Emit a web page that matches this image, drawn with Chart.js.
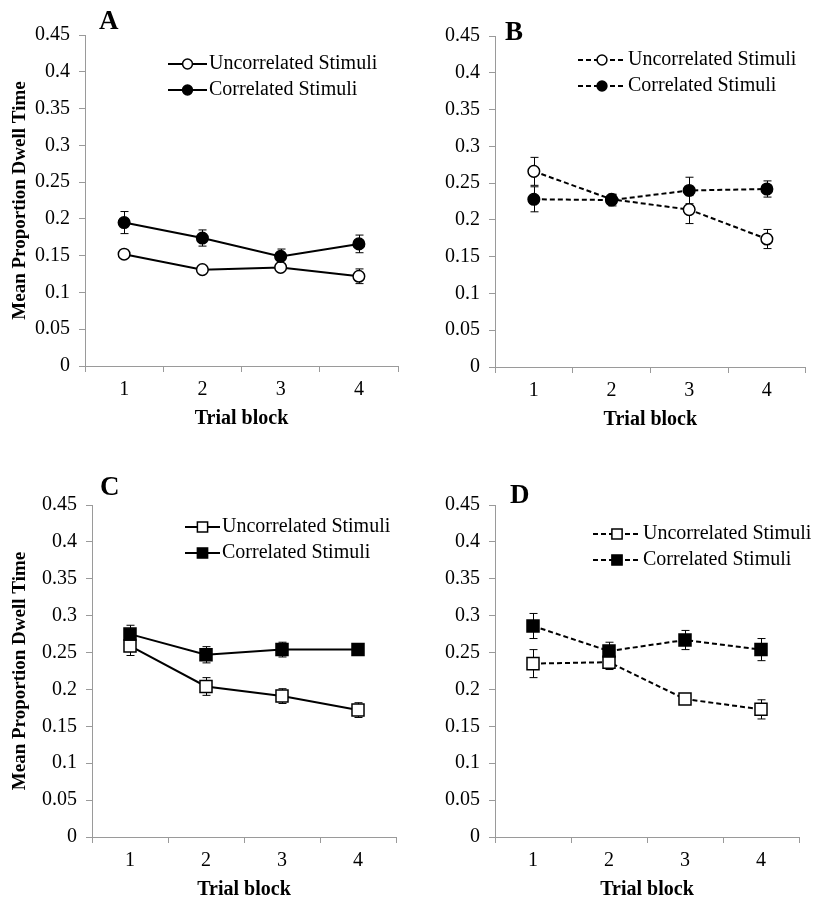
<!DOCTYPE html>
<html lang="en">
<head>
<meta charset="UTF-8">
<title>Mean Proportion Dwell Time by Trial Block</title>
<script src="https://cdn.jsdelivr.net/npm/chart.js@4.4.0/dist/chart.umd.min.js"></script>
<style>
  body { margin: 0; background: #fff; }
  #wrap { position: relative; width: 813px; height: 899px; background: #fff; }
  canvas { position: absolute; }
</style>
</head>
<body>
<div id="wrap">
  <canvas id="chartA" width="406" height="440" style="left:0;top:0"></canvas>
  <canvas id="chartB" width="407" height="440" style="left:406px;top:0"></canvas>
  <canvas id="chartC" width="406" height="444" style="left:0;top:455px"></canvas>
  <canvas id="chartD" width="407" height="444" style="left:406px;top:455px"></canvas>
</div>
<script>
// ---- data ----
const trialBlocks = ['1', '2', '3', '4'];
const seriesNames = ['Uncorrelated Stimuli', 'Correlated Stimuli'];
const yMin = 0, yMax = 0.45, yStep = 0.05;

// Panel A
const uncorrA = [0.152, 0.131, 0.134, 0.122];
const uncorrErrA = [0.004, 0.004, 0.004, 0.010];
const corrA = [0.195, 0.174, 0.149, 0.166];
const corrErrA = [0.015, 0.011, 0.010, 0.012];

// Panel B
const uncorrB = [0.266, 0.228, 0.214, 0.174];
const uncorrErrB = [0.019, 0.006, 0.019, 0.013];
const corrB = [0.228, 0.227, 0.240, 0.242];
const corrErrB = [0.017, 0.008, 0.018, 0.011];

// Panel C
const uncorrC = [0.259, 0.204, 0.191, 0.172];
const uncorrErrC = [0.013, 0.012, 0.010, 0.010];
const corrC = [0.275, 0.247, 0.254, 0.254];
const corrErrC = [0.012, 0.011, 0.010, 0.005];

// Panel D
const uncorrD = [0.235, 0.237, 0.187, 0.173];
const uncorrErrD = [0.019, 0.010, 0.006, 0.013];
const corrD = [0.286, 0.252, 0.267, 0.254];
const corrErrD = [0.017, 0.012, 0.013, 0.015];

// ---- look ----
const FONT = '"Liberation Serif", "Times New Roman", serif';
const AXIS_GREY = '#9a9a9a';

// error bars drawn under the markers
const errorBars = {
  id: 'errorBars',
  beforeDatasetsDraw(chart) {
    const ctx = chart.ctx, y = chart.scales.y;
    ctx.save();
    ctx.strokeStyle = '#000';
    ctx.lineWidth = 1;
    chart.data.datasets.forEach((ds, i) => {
      chart.getDatasetMeta(i).data.forEach((pt, j) => {
        const v = ds.data[j], e = ds.errors[j];
        const x = Math.round(pt.x) + 0.5;
        const top = y.getPixelForValue(v + e), bot = y.getPixelForValue(v - e);
        ctx.beginPath();
        ctx.moveTo(x, top); ctx.lineTo(x, bot);
        ctx.moveTo(x - 4, top); ctx.lineTo(x + 4, top);
        ctx.moveTo(x - 4, bot); ctx.lineTo(x + 4, bot);
        ctx.stroke();
      });
    });
    ctx.restore();
  }
};

function drawMarker(ctx, shape, x, y, r, fill) {
  ctx.beginPath();
  if (shape === 'rect') {
    const s = r * Math.SQRT1_2;
    ctx.rect(x - s, y - s, 2 * s, 2 * s);
  } else {
    ctx.arc(x, y, r, 0, Math.PI * 2);
  }
  ctx.fillStyle = fill;
  ctx.fill();
  ctx.lineWidth = 1.5;
  ctx.strokeStyle = '#000';
  ctx.stroke();
}

// legend with line-marker-line sample, plus the panel letter
const panelDecor = {
  id: 'panelDecor',
  afterDraw(chart, args, opts) {
    const ctx = chart.ctx;
    ctx.save();
    chart.data.datasets.forEach((ds, i) => {
      const y = opts.rows[i];
      ctx.beginPath();
      ctx.setLineDash(ds.borderDash || []);
      ctx.lineWidth = ds.borderWidth;
      ctx.strokeStyle = '#000';
      ctx.moveTo(opts.x0, y);
      ctx.lineTo(opts.x1, y);
      ctx.stroke();
      ctx.setLineDash([]);
      drawMarker(ctx, ds.pointStyle, (opts.x0 + opts.x1) / 2, y, ds.pointRadius * 0.85, ds.pointBackgroundColor);
      ctx.fillStyle = '#000';
      ctx.font = '20px ' + FONT;
      ctx.textBaseline = 'middle';
      ctx.textAlign = 'left';
      ctx.fillText(ds.label, opts.x1 + 2, y);
    });
    ctx.font = 'bold 27px ' + FONT;
    ctx.textBaseline = 'alphabetic';
    ctx.fillStyle = '#000';
    ctx.fillText(opts.letter, opts.lx, opts.ly);
    ctx.restore();
  }
};

function makePanel(id, cfg) {
  const canvas = document.getElementById(id);
  const W = canvas.width, H = canvas.height;
  const xAxisH = 65;
  const lineStyle = cfg.dashed ? [5, 3] : [];
  const lw = 2;
  const r = cfg.shape === 'rect' ? 8.5 : 5.8;
  const mk = (label, data, errors, fill, order) => ({
    label, data, errors, order,
    borderColor: '#000', borderWidth: lw, borderDash: lineStyle,
    pointStyle: cfg.shape, pointRadius: r, pointBorderWidth: 1.5,
    pointBorderColor: '#000', pointBackgroundColor: fill,
    tension: 0
  });
  return new Chart(canvas, {
    type: 'line',
    data: {
      labels: trialBlocks,
      datasets: [
        mk(seriesNames[0], cfg.uncorr, cfg.uncorrErr, '#fff', 1),
        mk(seriesNames[1], cfg.corr, cfg.corrErr, '#000', 0)
      ]
    },
    options: {
      responsive: false,
      animation: false,
      devicePixelRatio: 1,
      layout: {
        padding: { left: 0, top: cfg.area.top, right: W - cfg.area.right, bottom: H - cfg.area.bottom - xAxisH }
      },
      plugins: {
        legend: { display: false },
        tooltip: { enabled: false },
        panelDecor: { rows: cfg.legend.rows, x0: cfg.legend.x0, x1: cfg.legend.x1, letter: cfg.letter, lx: cfg.lx, ly: cfg.ly }
      },
      scales: {
        x: {
          offset: true,
          afterFit: s => { s.height = xAxisH; },
          grid: { offset: true, drawOnChartArea: false, drawTicks: true, tickLength: 6, color: AXIS_GREY },
          border: { display: true, color: AXIS_GREY, width: 1 },
          ticks: { color: '#000', font: { family: FONT, size: 20 }, padding: 6 },
          title: { display: true, text: 'Trial block', color: '#000', font: { family: FONT, size: 20, weight: 'bold' }, padding: 0 }
        },
        y: {
          min: yMin, max: yMax,
          afterFit: s => { s.width = cfg.area.left; },
          grid: { drawOnChartArea: false, drawTicks: true, tickLength: 6, color: AXIS_GREY },
          border: { display: true, color: AXIS_GREY, width: 1 },
          ticks: {
            stepSize: yStep, color: '#000', padding: 9,
            font: { family: FONT, size: 20 },
            callback: v => String(+v.toFixed(2))
          },
          title: {
            display: cfg.yTitle, text: 'Mean Proportion Dwell Time', color: '#000',
            font: { family: FONT, size: 19, weight: 'bold' }, padding: { top: 9, bottom: 0 }
          }
        }
      }
    },
    plugins: [errorBars, panelDecor]
  });
}

makePanel('chartA', {
  uncorr: uncorrA, uncorrErr: uncorrErrA, corr: corrA, corrErr: corrErrA,
  area: { left: 85, top: 35, right: 398, bottom: 366 },
  yTitle: true, dashed: false, shape: 'circle',
  legend: { x0: 168, x1: 207, rows: [64, 90] }, letter: 'A', lx: 99, ly: 29
});
makePanel('chartB', {
  uncorr: uncorrB, uncorrErr: uncorrErrB, corr: corrB, corrErr: corrErrB,
  area: { left: 89, top: 36, right: 403, bottom: 367 },
  yTitle: false, dashed: true, shape: 'circle',
  legend: { x0: 172, x1: 220, rows: [60, 86] }, letter: 'B', lx: 99, ly: 40
});
makePanel('chartC', {
  uncorr: uncorrC, uncorrErr: uncorrErrC, corr: corrC, corrErr: corrErrC,
  area: { left: 92, top: 50, right: 405, bottom: 382 },
  yTitle: true, dashed: false, shape: 'rect',
  legend: { x0: 185, x1: 220, rows: [72, 98] }, letter: 'C', lx: 100, ly: 40
});
makePanel('chartD', {
  uncorr: uncorrD, uncorrErr: uncorrErrD, corr: corrD, corrErr: corrErrD,
  area: { left: 89, top: 50, right: 393, bottom: 382 },
  yTitle: false, dashed: true, shape: 'rect',
  legend: { x0: 187, x1: 235, rows: [79, 105] }, letter: 'D', lx: 104, ly: 48
});
</script>
</body>
</html>
